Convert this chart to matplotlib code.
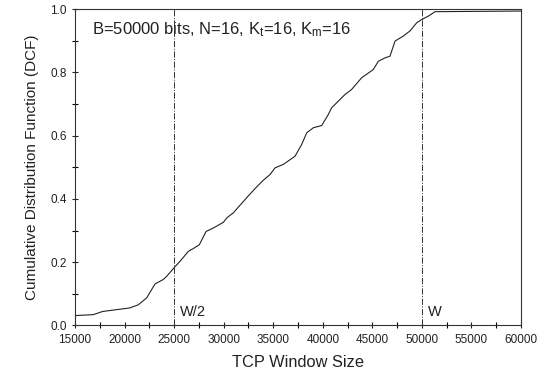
import matplotlib
matplotlib.use("Agg")
import matplotlib.pyplot as plt
from matplotlib.ticker import MultipleLocator

plt.rcParams["font.family"] = ["Liberation Sans", "DejaVu Sans"]
plt.rcParams["mathtext.fontset"] = "custom"
plt.rcParams["mathtext.rm"] = "Liberation Sans"
plt.rcParams["mathtext.it"] = "Liberation Sans"

# CDF of TCP window size
window = [15000, 16850, 17790, 20490, 21380, 22230, 23070, 23900, 24240, 24990,
          25600, 26430, 26880, 27545, 28220, 28960, 29970, 30310, 30980, 31390,
          31990, 32500, 33330, 34000, 34680, 35180, 36020, 37200, 37870, 38380,
          39050, 39890, 40560, 40890, 42240, 42910, 43920, 45100, 45600, 46280,
          46780, 47290, 48130, 48800, 49480, 49980, 50650, 51330, 60000]
cdf = [0.031, 0.034, 0.044, 0.055, 0.065, 0.087, 0.131, 0.145, 0.155, 0.182,
       0.203, 0.234, 0.242, 0.255, 0.297, 0.308, 0.326, 0.340, 0.356, 0.371,
       0.392, 0.410, 0.438, 0.459, 0.477, 0.498, 0.509, 0.535, 0.572, 0.609,
       0.625, 0.632, 0.667, 0.688, 0.730, 0.746, 0.783, 0.809, 0.835, 0.846,
       0.851, 0.899, 0.915, 0.931, 0.957, 0.967, 0.978, 0.992, 0.994]

W = 50000
marks = [W / 2, W]
mark_labels = ["W/2", "W"]

fig = plt.figure(figsize=(5.56, 3.81), dpi=100)
ax = fig.add_axes([0.135, 0.146, 0.802, 0.830])

ax.plot(window, cdf, color="#222222", lw=0.8)
for xv, lab in zip(marks, mark_labels):
    ax.axvline(xv, color="#333333", lw=0.7, linestyle="-.")
    ax.text(xv + 600, 0.042, lab, fontsize=10.5, color="#222222",
            ha="left", va="center")

ax.text(0.037, 0.935, r"B=50000 bits, N=16, K$_\mathrm{t}$=16, K$_\mathrm{m}$=16",
        transform=ax.transAxes, fontsize=12, color="#222222",
        ha="left", va="center")

ax.set_xlim(15000, 60000)
ax.set_ylim(0, 1.0)
ax.xaxis.set_major_locator(MultipleLocator(5000))
ax.xaxis.set_minor_locator(MultipleLocator(2500))
ax.yaxis.set_major_locator(MultipleLocator(0.2))
ax.yaxis.set_minor_locator(MultipleLocator(0.1))
ax.tick_params(which="major", direction="inout", length=5, width=0.8,
               labelsize=8.5, colors="#222222")
ax.tick_params(which="minor", direction="inout", length=4, width=0.8)
ax.tick_params(axis="x", pad=4)
for s in ax.spines.values():
    s.set_linewidth(0.8)
    s.set_color("#333333")

ax.set_xlabel("TCP Window Size", fontsize=11.8, color="#222222", labelpad=6)
ax.set_ylabel("Cumulative Distribution Function (DCF)", fontsize=11,
              color="#222222", labelpad=8)

fig.savefig("out.png", dpi=100)
